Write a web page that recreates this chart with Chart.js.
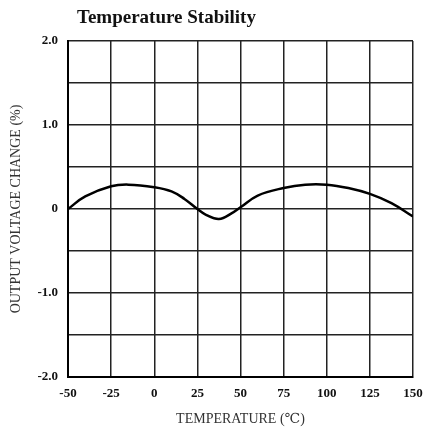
<!DOCTYPE html>
<html>
<head>
<meta charset="utf-8">
<script src="https://cdn.jsdelivr.net/npm/chart.js@4"></script>
<style>
  html, body { margin: 0; padding: 0; background: #fff; }
  #wrap { width: 424px; height: 430px; }
</style>
</head>
<body>
<div id="wrap"><canvas id="stabilityChart" width="424" height="430"></canvas></div>
<script>
// temperature (degC) and output voltage change (%)
const temps = [-50, -40, -25, -15, 0, 10, 17.5, 25, 30, 37.5, 45, 50, 60, 75, 87.5, 100, 112.5, 125, 137.5, 150];
const change = [0, 0.15, 0.27, 0.29, 0.26, 0.21, 0.12, 0, -0.07, -0.12, -0.05, 0.02, 0.16, 0.25, 0.29, 0.29, 0.25, 0.18, 0.07, -0.09];

const xTicks = [-50, -25, 0, 25, 50, 75, 100, 125, 150];
const yLabels = { '2': '2.0', '1': '1.0', '0': '0', '-1': '-1.0', '-2': '-2.0' };

const titleText = 'Temperature Stability';
const serif = '"Liberation Serif", "DejaVu Serif", serif';

// draws the heading a bit in from the left of the plot, like the datasheet
const headingPlugin = {
    id: 'heading',
    afterDraw(chart) {
        const ctx = chart.ctx;
        ctx.save();
        ctx.font = 'bold 19px ' + serif;
        ctx.fillStyle = '#111';
        ctx.textBaseline = 'middle';
        ctx.fillText(titleText, chart.chartArea.left + 9, 18);
        ctx.restore();
    }
};

function initChart() {
    const ctx = document.getElementById('stabilityChart').getContext('2d');
    new Chart(ctx, {
        type: 'line',
        data: {
            datasets: [{
                data: temps.map((t, i) => ({ x: t, y: change[i] })),
                borderColor: '#000',
                borderWidth: 2.5,
                pointRadius: 0,
                tension: 0.4,
                fill: false
            }]
        },
        options: {
            responsive: false,
            animation: false,
            layout: { padding: { top: 41, right: 0, bottom: 0, left: 0 } },
            plugins: {
                legend: { display: false },
                tooltip: { enabled: false }
            },
            scales: {
                x: {
                    type: 'linear',
                    min: -50,
                    max: 150,
                    afterBuildTicks: axis => { axis.ticks = xTicks.map(v => ({ value: v })); },
                    grid: { color: '#222', lineWidth: 1.5, drawTicks: false },
                    border: { color: '#000', width: 2 },
                    ticks: {
                        padding: 9,
                        maxRotation: 0,
                        color: '#111',
                        font: { family: serif, size: 13, weight: 'bold' }
                    },
                    title: {
                        display: true,
                        text: 'TEMPERATURE (\u2103)',
                        color: '#333',
                        padding: { top: 2, bottom: 2 },
                        font: { family: serif, size: 14 }
                    },
                    afterFit: axis => {
                        axis.height = 53;
                        axis.paddingLeft = 0;
                        axis.paddingRight = 11;
                    }
                },
                y: {
                    min: -2,
                    max: 2,
                    ticks: {
                        stepSize: 0.5,
                        padding: 10,
                        color: '#111',
                        font: { family: serif, size: 13, weight: 'bold' },
                        callback: v => yLabels[String(v)] || ''
                    },
                    grid: { color: '#222', lineWidth: 1.5, drawTicks: false },
                    border: { color: '#000', width: 2 },
                    title: {
                        display: true,
                        text: 'OUTPUT VOLTAGE CHANGE (%)',
                        color: '#333',
                        padding: { top: 8, bottom: 0 },
                        font: { family: serif, size: 14 }
                    },
                    afterFit: axis => { axis.width = 68; }
                }
            }
        },
        plugins: [headingPlugin]
    });
}

document.addEventListener('DOMContentLoaded', initChart);
</script>
</body>
</html>
